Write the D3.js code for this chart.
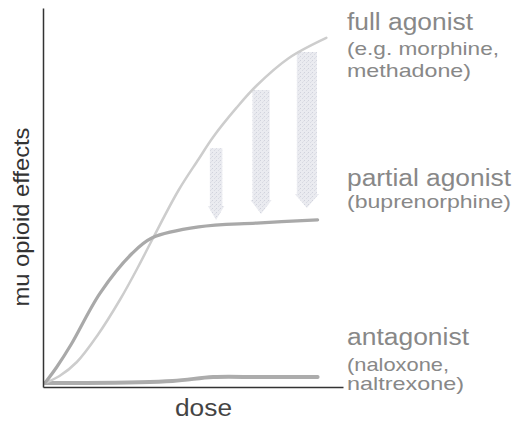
<!DOCTYPE html>
<html>
<head>
<meta charset="utf-8">
<script src="https://cdn.jsdelivr.net/npm/d3@7"></script>
<style>
  html, body { margin: 0; padding: 0; background: #fff; }
  svg { display: block; font-family: "Liberation Sans", Arial, Helvetica, sans-serif; }
</style>
</head>
<body>
<div id="chart"></div>
<script>
// dose on an arbitrary 0-10 scale, effect on 0-100
const fullDose   = [0, 0.5, 1.1, 1.8, 2.6, 3.2, 3.7, 4.6, 5.3, 5.8, 6.6, 7.3, 8.4, 9.7];
const fullEffect = [0, 2, 6, 13.5, 24, 33, 41, 55, 64, 70.3, 78.6, 85, 92.8, 98.6];

const partialDose   = [0, 0.4, 0.9, 1.9, 3.0, 3.7, 5.3, 7.3, 9.4];
const partialEffect = [0, 4.5, 11, 25.7, 37, 41.5, 44.6, 45.7, 46.6];

const antagDose   = [0, 1.2, 4.4, 5.8, 7.4, 9.4];
const antagEffect = [0, 0, 0.6, 1.7, 1.7, 1.7];

// the three "ceiling" arrows: dose, effect at tail, effect at tip
const arrowDose = [5.9, 7.45, 9.03];
const arrowFrom = [67.1, 83.7, 94.6];
const arrowTo   = [46.6, 48.3, 50];

const seriesNames = ['full agonist', 'partial agonist', 'antagonist'];
const seriesNotes = [
    ['(e.g. morphine,', 'methadone)'],
    ['(buprenorphine)'],
    ['(naloxone,', 'naltrexone)']
];

const width = 516, height = 421;

const svg = d3.select('#chart').append('svg')
    .attr('width', width)
    .attr('height', height);

// scales
const x = d3.scaleLinear().domain([0, 10]).range([45, 335]);
const y = d3.scaleLinear().domain([0, 100]).range([383, 33]);

// speckled fill for the arrows (looks like a scan of pencil shading)
const defs = svg.append('defs');
const pat = defs.append('pattern')
    .attr('id', 'speckle')
    .attr('width', 4).attr('height', 4)
    .attr('patternUnits', 'userSpaceOnUse');
pat.append('rect').attr('width', 4).attr('height', 4).attr('fill', '#eaebf0');
pat.append('rect').attr('x', 0).attr('y', 0).attr('width', 1).attr('height', 1).attr('fill', '#d0d2dc');
pat.append('rect').attr('x', 2).attr('y', 2).attr('width', 1).attr('height', 1).attr('fill', '#d8dae2');
pat.append('rect').attr('x', 3).attr('y', 1).attr('width', 1).attr('height', 1).attr('fill', '#dfe0e7');

// arrows
const arrows = arrowDose.map((d, i) => ({ dose: d, from: arrowFrom[i], to: arrowTo[i] }));

function arrowPath(a) {
    const cx = x(a.dose), top = y(a.from), tip = y(a.to);
    const len = tip - top;
    const half = (6 + len * 0.09) / 2;     // longer arrows are a bit wider
    const headLen = 14, headHalf = half + 2;
    return `M${cx - half},${top} L${cx + half},${top} L${cx + half},${tip - headLen}` +
           ` L${cx + headHalf},${tip - headLen} L${cx},${tip} L${cx - headHalf},${tip - headLen}` +
           ` L${cx - half},${tip - headLen} Z`;
}

svg.append('g').selectAll('path')
    .data(arrows)
    .join('path')
    .attr('d', arrowPath)
    .attr('fill', 'url(#speckle)');

// curves
const line = d3.line()
    .x(d => x(d[0]))
    .y(d => y(d[1]))
    .curve(d3.curveCatmullRom.alpha(0.5));

const curves = [
    { pts: d3.zip(antagDose, antagEffect),     color: '#acacac', w: 4 },
    { pts: d3.zip(fullDose, fullEffect),       color: '#cdcdcd', w: 2.5 },
    { pts: d3.zip(partialDose, partialEffect), color: '#a9a9a9', w: 3.2 }
];

svg.append('g').selectAll('path')
    .data(curves)
    .join('path')
    .attr('d', d => line(d.pts))
    .attr('fill', 'none')
    .attr('stroke', d => d.color)
    .attr('stroke-width', d => d.w)
    .attr('stroke-linecap', 'round');

// axes: plain lines, no ticks
const xAxisScale = x.copy().range([43, 343]);
const yAxisScale = y.copy().range([387, 8]);

svg.append('g')
    .attr('transform', `translate(0,${yAxisScale.range()[0]})`)
    .call(d3.axisBottom(xAxisScale).tickValues([]).tickSizeOuter(0))
    .call(g => g.select('.domain').attr('stroke', '#333').attr('stroke-width', 1.5));

svg.append('g')
    .attr('transform', `translate(${xAxisScale.range()[0]},0)`)
    .call(d3.axisLeft(yAxisScale).tickValues([]).tickSizeOuter(0))
    .call(g => g.select('.domain').attr('stroke', '#333').attr('stroke-width', 1.5));

// axis titles
svg.append('text')
    .attr('x', 175).attr('y', 416)
    .attr('textLength', 57)
    .attr('lengthAdjust', 'spacingAndGlyphs')
    .style('font-size', '23px')
    .style('fill', '#444')
    .text('dose');

svg.append('text')
    .attr('transform', 'translate(29,217) rotate(-90)')
    .attr('text-anchor', 'middle')
    .attr('textLength', 179)
    .attr('lengthAdjust', 'spacingAndGlyphs')
    .style('font-size', '22px')
    .style('fill', '#333')
    .text('mu opioid effects');

// right-hand labels
const labelBase = [30, 186, 345];
const noteBase = [[55, 77], [208], [371, 390]];
const titleLen = [126, 164, 122];
const noteLen = [[152, 124], [164], [102, 117]];

const labels = svg.append('g').style('fill', '#888');

seriesNames.forEach((name, i) => {
    labels.append('text')
        .attr('x', 347).attr('y', labelBase[i])
        .attr('textLength', titleLen[i])
        .attr('lengthAdjust', 'spacingAndGlyphs')
        .style('font-size', '23px')
        .text(name);
    seriesNotes[i].forEach((note, j) => {
        labels.append('text')
            .attr('x', 347).attr('y', noteBase[i][j])
            .attr('textLength', noteLen[i][j])
            .attr('lengthAdjust', 'spacingAndGlyphs')
            .style('font-size', '19px')
            .text(note);
    });
});
</script>
</body>
</html>
